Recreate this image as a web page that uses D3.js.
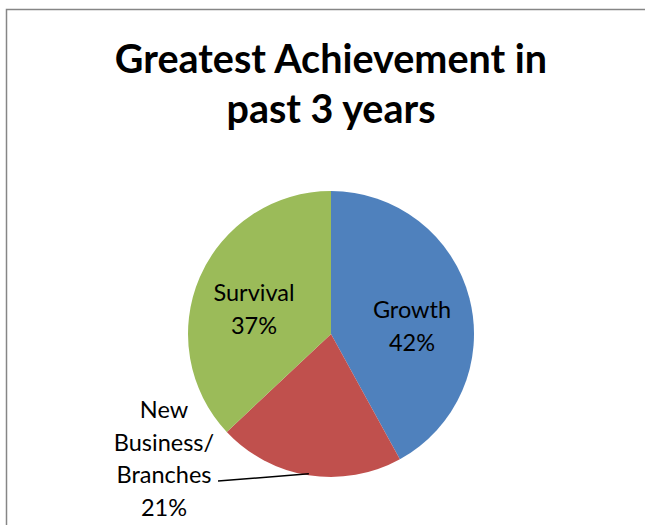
<!DOCTYPE html>
<html>
<head>
<meta charset="utf-8">
<script src="https://cdn.jsdelivr.net/npm/d3@7"></script>
<style>
  body { margin: 0; background: #fff; }
  text { font-family: Lato, "Open Sans", sans-serif; }
</style>
</head>
<body>
<div id="chart"></div>
<script>
const categories = ["Growth", "New Business/Branches", "Survival"];
const values = [42, 21, 37];
const colors = ["#4F81BD", "#C0504D", "#9BBB59"];
const titleLines = ["Greatest Achievement in", "past 3 years"];

const width = 645, height = 525;
const cx = 331, cy = 334, radius = 143;

const svg = d3.select("#chart").append("svg")
    .attr("width", width)
    .attr("height", height);

// chart frame (runs off the right and bottom edge)
svg.append("rect")
    .attr("x", 6.5).attr("y", 9.5)
    .attr("width", 700).attr("height", 600)
    .attr("fill", "#fff")
    .attr("stroke", "#868686")
    .attr("stroke-width", 1.5);

// title
svg.append("text")
    .attr("text-anchor", "middle")
    .style("font-size", "39.5px")
    .style("font-weight", "bold")
    .selectAll("tspan")
    .data(titleLines)
    .join("tspan")
    .attr("x", 331)
    .attr("y", (d, i) => 73 + i * 50)
    .text(d => d);

const pie = d3.pie().sort(null).value(d => d.value);
const data = pie(categories.map((c, i) => ({ name: c, value: values[i], color: colors[i] })));
const arc = d3.arc().innerRadius(0).outerRadius(radius);

const g = svg.append("g").attr("transform", `translate(${cx},${cy})`);

g.selectAll("path")
    .data(data)
    .join("path")
    .attr("d", arc)
    .attr("fill", d => d.data.color);

// labels inside slices
const inner = [
    { i: 0, x: 81, y: -16 },
    { i: 2, x: -77, y: -33 }
];
inner.forEach(p => {
    const d = data[p.i];
    const t = g.append("text")
        .attr("text-anchor", "middle")
        .style("font-size", "23.5px")
        .attr("fill", "#000");
    t.append("tspan").attr("x", p.x).attr("y", p.y).text(d.data.name);
    t.append("tspan").attr("x", p.x).attr("y", p.y + 33).text(d.data.value + "%");
});

// outside label for New Business/Branches with leader line
const nb = data[1];
const nbLines = ["New", "Business/", "Branches", nb.data.value + "%"];
svg.append("text")
    .attr("text-anchor", "middle")
    .style("font-size", "23.5px")
    .selectAll("tspan")
    .data(nbLines)
    .join("tspan")
    .attr("x", 164)
    .attr("y", (d, i) => 418 + i * 32.5)
    .text(d => d);

const mid = (nb.startAngle + nb.endAngle) / 2;
const edge = [cx + radius * Math.sin(mid) * 0.99, cy - radius * Math.cos(mid) * 0.99];
svg.append("path")
    .attr("d", d3.line()([[218, 481], edge]))
    .attr("fill", "none")
    .attr("stroke", "#000")
    .attr("stroke-width", 1.5);
</script>
</body>
</html>
